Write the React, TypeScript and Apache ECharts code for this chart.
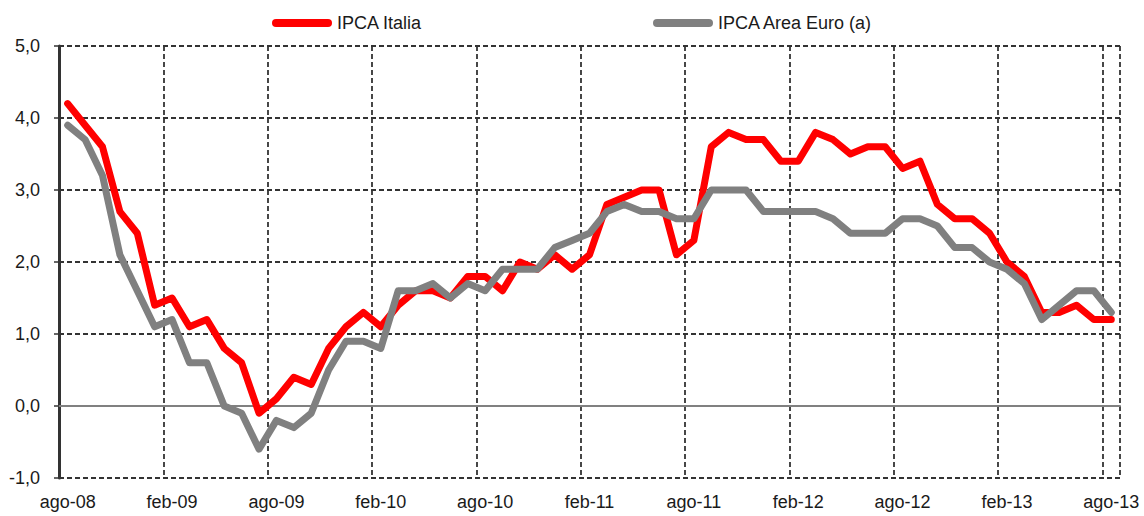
import React, { useEffect, useRef } from "react";
import * as echarts from "echarts";

const monthNames = ["gen", "feb", "mar", "apr", "mag", "giu", "lug", "ago", "set", "ott", "nov", "dic"];

// monthly categories from ago-08 to ago-13
const categories: string[] = [];
for (let i = 0; i < 61; i++) {
  const m = (7 + i) % 12;
  const y = 8 + Math.floor((7 + i) / 12);
  categories.push(monthNames[m] + "-" + String(y).padStart(2, "0"));
}

const ipcaItalia = [
  4.2, 3.9, 3.6, 2.7, 2.4, 1.4, 1.5, 1.1, 1.2, 0.8, 0.6, -0.1,
  0.1, 0.4, 0.3, 0.8, 1.1, 1.3, 1.1, 1.4, 1.6, 1.6, 1.5, 1.8,
  1.8, 1.6, 2.0, 1.9, 2.1, 1.9, 2.1, 2.8, 2.9, 3.0, 3.0, 2.1,
  2.3, 3.6, 3.8, 3.7, 3.7, 3.4, 3.4, 3.8, 3.7, 3.5, 3.6, 3.6,
  3.3, 3.4, 2.8, 2.6, 2.6, 2.4, 2.0, 1.8, 1.3, 1.3, 1.4, 1.2,
  1.2,
];

const ipcaAreaEuro = [
  3.9, 3.7, 3.2, 2.1, 1.6, 1.1, 1.2, 0.6, 0.6, 0.0, -0.1, -0.6,
  -0.2, -0.3, -0.1, 0.5, 0.9, 0.9, 0.8, 1.6, 1.6, 1.7, 1.5, 1.7,
  1.6, 1.9, 1.9, 1.9, 2.2, 2.3, 2.4, 2.7, 2.8, 2.7, 2.7, 2.6,
  2.6, 3.0, 3.0, 3.0, 2.7, 2.7, 2.7, 2.7, 2.6, 2.4, 2.4, 2.4,
  2.6, 2.6, 2.5, 2.2, 2.2, 2.0, 1.9, 1.7, 1.2, 1.4, 1.6, 1.6,
  1.3,
];

const seriesNames = ["IPCA Italia", "IPCA Area Euro (a)"];
const yTicks = { min: -1, max: 5, interval: 1 };

const FONT = "'Liberation Sans', Arial, sans-serif";
const TEXT = "#1a1a1a";
const capsule = "path://M4,0 L56,0 A4,4 0 0 1 56,8 L4,8 A4,4 0 0 1 4,0 Z";
const gridLine = { color: "#333333", width: 1.8, type: [5, 3] };

export default function App() {
  const ref = useRef<HTMLDivElement>(null);

  useEffect(() => {
    document.body.style.margin = "0";
    if (!ref.current) return;
    const chart = echarts.init(ref.current, null, { renderer: "svg" });
    const legendBase = {
      top: 14,
      padding: 0,
      itemWidth: 60,
      itemHeight: 8,
      selectedMode: false,
      textStyle: { fontFamily: FONT, fontSize: 18, color: TEXT },
    };
    chart.setOption({
      animation: false,
      backgroundColor: "#ffffff",
      textStyle: { fontFamily: FONT },
      legend: [
        { ...legendBase, left: 272, data: [{ name: seriesNames[0], icon: capsule, itemStyle: { color: "#ff0000" } }] },
        { ...legendBase, left: 653, data: [{ name: seriesNames[1], icon: capsule, itemStyle: { color: "#808080" } }] },
      ],
      grid: { left: 59, right: 24, top: 46, bottom: 38, containLabel: false },
      xAxis: [
        {
          type: "category",
          data: categories,
          boundaryGap: true,
          axisLine: { show: false, onZero: false },
          axisTick: { show: false },
          axisLabel: {
            interval: 5,
            margin: 15,
            fontFamily: FONT,
            fontSize: 18,
            color: TEXT,
          },
          splitLine: {
            show: true,
            interval: 5,
            lineStyle: gridLine,
          },
        },
        {
          type: "category",
          data: categories,
          boundaryGap: true,
          position: "bottom",
          axisLine: { show: true, onZero: true, lineStyle: { color: "#808080", width: 2 } },
          axisTick: { show: false },
          axisLabel: { show: false },
          splitLine: { show: false },
        },
      ],
      yAxis: {
        type: "value",
        min: yTicks.min,
        max: yTicks.max,
        interval: yTicks.interval,
        axisLine: { show: true, lineStyle: { color: "#333333", width: 3 } },
        axisTick: { show: true, length: 5, lineStyle: { color: "#333333", width: 1.5 } },
        axisLabel: {
          margin: 19,
          fontFamily: FONT,
          fontSize: 18,
          color: TEXT,
          formatter: (v: number) => v.toFixed(1).replace(".", ","),
        },
        splitLine: {
          show: true,
          lineStyle: gridLine,
        },
      },
      series: [
        {
          name: seriesNames[0],
          type: "line",
          data: ipcaItalia,
          symbol: "none",
          lineStyle: { color: "#ff0000", width: 7, cap: "round", join: "round" },
          itemStyle: { color: "#ff0000" },
        },
        {
          name: seriesNames[1],
          type: "line",
          data: ipcaAreaEuro,
          symbol: "none",
          lineStyle: { color: "#808080", width: 7, cap: "round", join: "round" },
          itemStyle: { color: "#808080" },
        },
      ],
    });
    return () => chart.dispose();
  }, []);

  return <div ref={ref} style={{ width: 1144, height: 516 }} />;
}
